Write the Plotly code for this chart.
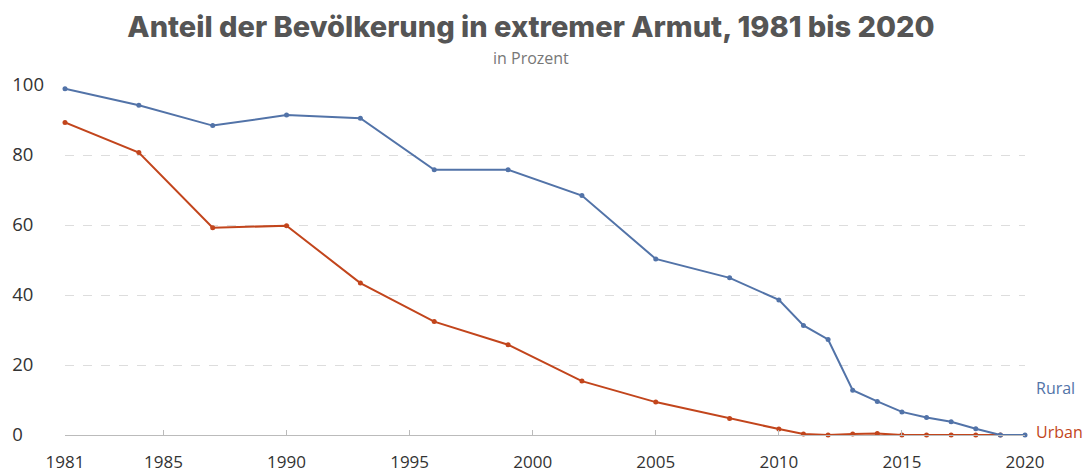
import plotly.graph_objects as go

years = [1981, 1984, 1987, 1990, 1993, 1996, 1999, 2002, 2005, 2008, 2010, 2011,
         2012, 2013, 2014, 2015, 2016, 2017, 2018, 2019, 2020]
rural = [98.9, 94.2, 88.4, 91.4, 90.5, 75.8, 75.8, 68.4, 50.3, 44.9, 38.6, 31.3,
         27.3, 12.8, 9.6, 6.6, 5.0, 3.8, 1.8, 0.0, 0.0]
urban_years = [1981, 1984, 1987, 1990, 1993, 1996, 1999, 2002, 2005, 2008, 2010, 2011,
               2012, 2013, 2014, 2015, 2016, 2017, 2018, 2019]
urban = [89.3, 80.7, 59.2, 59.8, 43.4, 32.4, 25.8, 15.4, 9.4, 4.7, 1.7, 0.3,
         0.0, 0.3, 0.4, 0.0, 0.0, 0.0, 0.0, 0.0]

x_ticks = [1981, 1985, 1990, 1995, 2000, 2005, 2010, 2015, 2020]
y_ticks = [0, 20, 40, 60, 80, 100]

C_RURAL = "#5273a8"
C_URBAN = "#c2451c"

# left-aligned y labels: pad with figure spaces to 3 digit widths
FS = "\u2007"
y_text = [str(v) + FS * (3 - len(str(v))) for v in y_ticks]

# the page has an 8px body margin, so the figure is 8px smaller on each axis
W, H = 1084, 466
L, R, T, B = 57, 67, 77, 39
PH = H - T - B  # plot height
PW = W - L - R  # plot width

fig = go.Figure()
fig.add_trace(go.Scatter(x=urban_years, y=urban, mode="lines+markers", name="Urban",
                         line=dict(color=C_URBAN, width=2), marker=dict(size=5, color=C_URBAN),
                         cliponaxis=False, showlegend=False))
fig.add_trace(go.Scatter(x=years, y=rural, mode="lines+markers", name="Rural",
                         line=dict(color=C_RURAL, width=2), marker=dict(size=5, color=C_RURAL),
                         cliponaxis=False, showlegend=False))

fig.update_layout(
    width=W, height=H,
    margin=dict(l=L, r=R, t=T, b=B, autoexpand=False),
    paper_bgcolor="white", plot_bgcolor="white",
    title=dict(text="Anteil der Bevölkerung in extremer Armut, 1981 bis 2020",
               x=523 / W, xanchor="center", y=1 - 19 / H, yanchor="middle",
               font=dict(family="Inter", size=29, color="#555555", weight=800)),
    xaxis=dict(range=[1981, 2020], tickvals=x_ticks, ticktext=[str(v) for v in x_ticks],
               showgrid=False, zeroline=False, showline=True, linecolor="#bbbbbb", linewidth=1,
               ticks="inside", ticklen=5, tickcolor="#bbbbbb", automargin=False,
               ticklabelstandoff=12,
               tickfont=dict(family="Open Sans", size=17, color="#333333")),
    yaxis=dict(range=[0, 100], tickvals=y_ticks, ticktext=y_text, showgrid=True,
               gridcolor="#dddddd", griddash="dash", gridwidth=1, zeroline=False,
               showline=False, automargin=False, ticklabelstandoff=20,
               tickfont=dict(family="Open Sans", size=18.5, color="#333333")),
    annotations=[
        dict(text="in Prozent", xref="paper", yref="paper", x=(523 - L) / PW,
             y=1 + (T - 50) / PH, xanchor="center", yanchor="middle", showarrow=False,
             font=dict(family="Open Sans", size=16, color="#777777")),
        dict(text="Rural", xref="paper", yref="y", x=(1026 - L) / PW, y=(435 - 388) / 3.5,
             xanchor="left", yanchor="middle", showarrow=False,
             font=dict(family="Open Sans", size=16, color=C_RURAL)),
        dict(text="Urban", xref="paper", yref="y", x=(1026 - L) / PW, y=(435 - 432) / 3.5,
             xanchor="left", yanchor="middle", showarrow=False,
             font=dict(family="Open Sans", size=16, color=C_URBAN)),
    ],
)

fig.write_html("out.html")
